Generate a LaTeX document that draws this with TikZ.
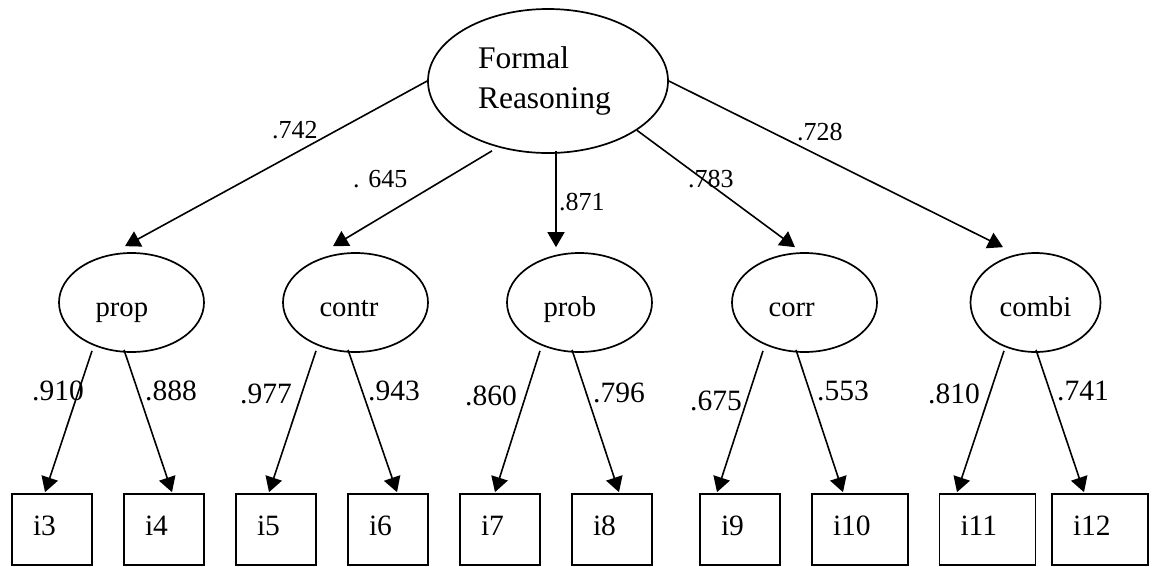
\documentclass[tikz,border=0pt]{standalone}
\usepackage{fontspec}
\setmainfont{Liberation Serif}
\usetikzlibrary{shapes.geometric, arrows.meta}

\begin{document}
\begin{tikzpicture}[x=1pt, y=-1pt,
  conn/.style={line width=1.6pt, -{Triangle[length=15pt, width=17pt]}},
  factor/.style={ellipse, draw, line width=1.7pt, inner sep=0pt,
    minimum width=240pt, minimum height=144pt, text width=140pt, align=left,
    font=\fontsize{31.5}{40}\selectfont},
  latent/.style={ellipse, draw, line width=1.7pt, inner sep=0pt,
    minimum width=145pt, minimum height=99pt, text width=72pt, align=left,
    text height=27pt, text depth=0pt, font=\fontsize{28.7}{34}\selectfont},
  item/.style={rectangle, draw, line width=1.7pt, inner xsep=21pt, inner ysep=0pt,
    minimum width=#1, text width=#1-42pt, minimum height=71pt, align=left,
    text height=11pt, text depth=0pt, font=\fontsize{29.5}{34}\selectfont},
  item/.default=80pt,
  toplbl/.style={anchor=base west, inner sep=0pt, font=\fontsize{26}{30}\selectfont},
  lowlbl/.style={anchor=base west, inner sep=0pt, font=\fontsize{29.5}{34}\selectfont}]

\useasboundingbox (0,0) rectangle (1154,566);

% second-order factor
\node[factor] (fr) at (548,81) {Formal\\Reasoning};

% first-order factors
\node[latent] (prop)  at (131.5,302.5) {prop};
\node[latent] (contr) at (355.5,302.5) {contr};
\node[latent] (prob)  at (579.5,302.5) {prob};
\node[latent] (corr)  at (804.5,302.5) {corr};
\node[latent, minimum width=130pt] (combi) at (1035.5,302.5) {combi};

% observed items
\node[item] (i3)  at (52,529.5)  {i3};
\node[item] (i4)  at (164,529.5) {i4};
\node[item] (i5)  at (276,529.5) {i5};
\node[item] (i6)  at (388,529.5) {i6};
\node[item] (i7)  at (500,529.5) {i7};
\node[item] (i8)  at (612,529.5) {i8};
\node[item] (i9)  at (740,529.5) {i9};
\node[item=96pt] (i10) at (860,529.5)  {i10};
\node[item=96pt] (i11) at (987.5,529.5) {i11};
\node[item=96pt] (i12) at (1100,529.5) {i12};

% second-order loadings
\draw[conn] (fr.west) -- ([xshift=-6.5pt, yshift=6pt]prop.north);
\draw[conn] ([xshift=-56pt, yshift=3pt]fr.south) -- ([xshift=-22.5pt, yshift=6pt]contr.north);
\draw[conn] ([xshift=8pt, yshift=3pt]fr.south) -- ([xshift=-23.5pt, yshift=5pt]prob.north);
\draw[conn] (fr.331) -- ([xshift=-9.5pt, yshift=5pt]corr.north);
\draw[conn] (fr.east) -- ([xshift=-32.5pt, yshift=5pt]combi.north);

% first-order loadings
\draw[conn] ([xshift=-39.5pt, yshift=2pt]prop.south) -- ([xshift=-7pt, yshift=1pt]i3.north);
\draw[conn] ([xshift=-7.5pt, yshift=3pt]prop.south) -- ([xshift=8pt, yshift=1pt]i4.north);
\draw[conn] ([xshift=-39.5pt, yshift=2pt]contr.south) -- ([xshift=-7pt, yshift=1pt]i5.north);
\draw[conn] ([xshift=-7.5pt, yshift=3pt]contr.south) -- ([xshift=9pt, yshift=1pt]i6.north);
\draw[conn] ([xshift=-39.5pt, yshift=2pt]prob.south) -- ([xshift=-5pt, yshift=1pt]i7.north);
\draw[conn] ([xshift=-7.5pt, yshift=3pt]prob.south) -- ([xshift=7pt, yshift=1pt]i8.north);
\draw[conn] ([xshift=-41.5pt, yshift=2pt]corr.south) -- ([xshift=-23pt, yshift=1pt]i9.north);
\draw[conn] ([xshift=-8.5pt, yshift=3pt]corr.south) -- ([xshift=-17pt, yshift=1pt]i10.north);
\draw[conn] ([xshift=-31.5pt, yshift=2pt]combi.south) -- ([xshift=-30.5pt, yshift=1pt]i11.north);
\draw[conn] ([xshift=0.5pt, yshift=3pt]combi.south) -- ([xshift=-16pt, yshift=1pt]i12.north);

% loading values
\node[toplbl] (l742) at (272,138) {.742};
\node[toplbl] (l645) at (353,187) {. 645};
\node[toplbl] (l871) at (559,210) {.871};
\node[toplbl] (l783) at (688,187) {.783};
\node[toplbl] (l728) at (797,140) {.728};

\node[lowlbl] (l910) at (32,400)   {.910};
\node[lowlbl] (l888) at (145,400)  {.888};
\node[lowlbl] (l977) at (240,403)  {.977};
\node[lowlbl] (l943) at (368,400)  {.943};
\node[lowlbl] (l860) at (465,405)  {.860};
\node[lowlbl] (l796) at (593,402)  {.796};
\node[lowlbl] (l675) at (690,410)  {.675};
\node[lowlbl] (l553) at (817,400)  {.553};
\node[lowlbl] (l810) at (928,403)  {.810};
\node[lowlbl] (l741) at (1057,400) {.741};

\end{tikzpicture}
\end{document}
